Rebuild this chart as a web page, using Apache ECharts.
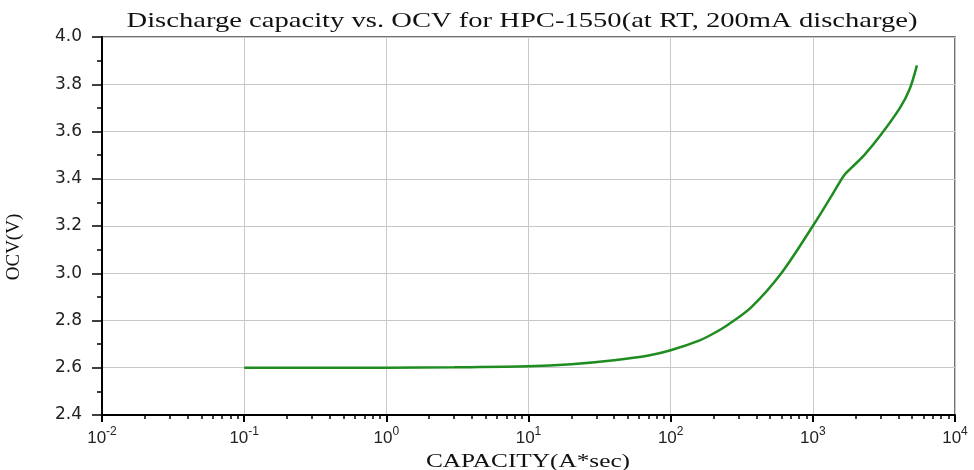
<!DOCTYPE html>
<html>
<head>
<meta charset="utf-8">
<script src="https://cdn.jsdelivr.net/npm/echarts@6/dist/echarts.min.js"></script>
<style>
  html, body { margin: 0; padding: 0; background: #fff; }
  #chart { width: 974px; height: 470px; }
</style>
</head>
<body>
<div id="chart"></div>
<script>
// capacity (A*sec)
const capacity = [0.1, 1, 3, 10, 20, 40, 70, 100, 160, 200, 250, 370, 600, 1000, 1340, 1660, 1850, 2300, 3000, 4100, 4800, 5400]
// open circuit voltage (V)
const ocv = [2.600, 2.600, 2.602, 2.606, 2.615, 2.632, 2.652, 2.674, 2.716, 2.745, 2.780, 2.857, 3.000, 3.200, 3.323, 3.415, 3.444, 3.500, 3.585, 3.700, 3.780, 3.880]

const yTicks = [2.4, 2.6, 2.8, 3.0, 3.2, 3.4, 3.6, 3.8, 4.0]
const decades = [-2, -1, 0, 1, 2, 3, 4]

// minor tick positions (log10 of 2..9 in each decade)
const minorTickValues = []
decades.slice(0, -1).forEach(function (d) {
    for (let k = 2; k <= 9; k++) minorTickValues.push(d + Math.log10(k))
})

const chart = echarts.init(document.getElementById('chart'))
const serif = '"Liberation Serif", "DejaVu Serif", serif'
const sans = '"Liberation Sans", Arial, sans-serif'

const option = {
    animation: false,
    // title and x name are stretched sideways in the original, so draw them as scaled text
    graphic: [
        {
            type: 'text',
            x: 522,
            y: 10,
            scaleX: 1.3,
            style: {
                text: 'Discharge capacity vs. OCV for HPC-1550(at RT, 200mA discharge)',
                font: '22px ' + serif,
                fill: '#111',
                textAlign: 'center',
                textVerticalAlign: 'top'
            }
        },
        {
            type: 'text',
            x: 528,
            y: 453,
            scaleX: 1.33,
            style: {
                text: 'CAPACITY(A*sec)',
                font: '19px ' + serif,
                fill: '#111',
                textAlign: 'center',
                textVerticalAlign: 'top'
            }
        }
    ],
    grid: {
        left: 102, right: 19, top: 37, bottom: 55,
        outerBoundsMode: 'none',
        show: true,
        borderColor: '#444',
        borderWidth: 1.5
    },
    xAxis: [
        {
            type: 'log',
            logBase: 10,
            min: 0.01,
            max: 10000,
            splitNumber: 6,
            axisLine: {lineStyle: {color: '#000', width: 2}},
            axisTick: {length: 7, lineStyle: {color: '#000', width: 2}},
            splitLine: {show: true, lineStyle: {color: '#c8c8c8', width: 1}},
            axisLabel: {
                margin: 11,
                formatter: function (v) {
                    const e = Math.round(Math.log10(v))
                    return '{b|10}{s|' + e + '}'
                },
                rich: {
                    b: {fontFamily: sans, fontSize: 17, color: '#222', lineHeight: 21, verticalAlign: 'bottom'},
                    s: {fontFamily: sans, fontSize: 12, color: '#222', verticalAlign: 'top'}
                }
            }
        },
        {
            type: 'value',
            position: 'bottom',
            min: -2,
            max: 4,
            axisLine: {show: false},
            axisLabel: {show: false},
            splitLine: {show: false},
            axisTick: {show: true, length: 4, customValues: minorTickValues, lineStyle: {color: '#000', width: 1.5}}
        }
    ],
    yAxis: {
        type: 'value',
        min: 2.4,
        max: 4.0,
        interval: 0.2,
        name: 'OCV(V)',
        nameLocation: 'middle',
        nameGap: 78,
        nameTextStyle: {fontFamily: serif, fontSize: 19, color: '#111', padding: [0, 42, 0, 0]},
        axisLine: {show: true, onZero: false, lineStyle: {color: '#000', width: 2}},
        axisTick: {show: true, length: 10, lineStyle: {color: '#000', width: 1.5}},
        minorTick: {show: true, splitNumber: 2, length: 5, lineStyle: {color: '#000', width: 1.5}},
        splitLine: {show: true, lineStyle: {color: '#c8c8c8', width: 1}},
        axisLabel: {
            margin: 20,
            fontFamily: '"DejaVu Sans", sans-serif',
            fontSize: 17,
            color: '#222',
            customValues: yTicks,
            formatter: function (v) { return v.toFixed(1) }
        }
    },
    series: [
        {
            type: 'line',
            xAxisIndex: 0,
            data: capacity.map(function (c, i) { return [c, ocv[i]] }),
            smooth: 0.3,
            showSymbol: false,
            lineStyle: {color: '#1e8c1e', width: 2.5}
        }
    ]
}
chart.setOption(option)
</script>
</body>
</html>
